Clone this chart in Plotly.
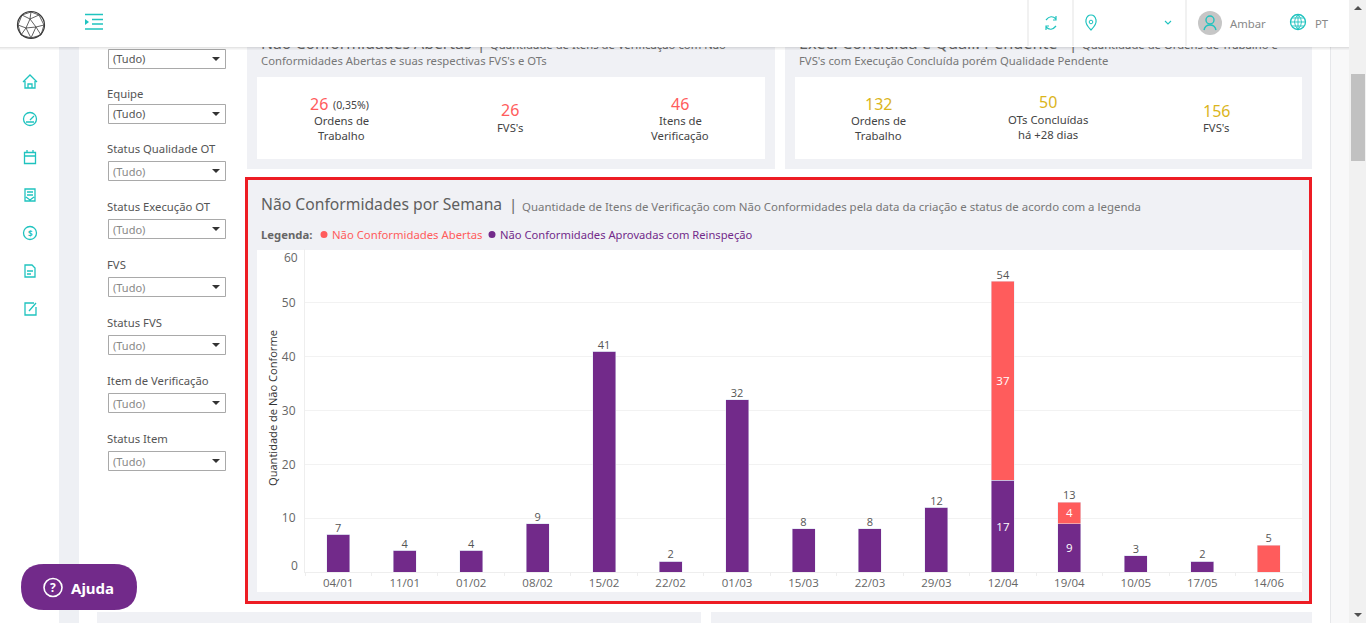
import plotly.graph_objects as go

W, H = 1366, 623
UI_FONT = "Noto Sans"

# chart data
semanas = ["04/01", "11/01", "01/02", "08/02", "15/02", "22/02", "01/03", "15/03",
           "22/03", "29/03", "12/04", "19/04", "10/05", "17/05", "14/06"]
aprovadas = [7, 4, 4, 9, 41, 2, 32, 8, 8, 12, 17, 9, 3, 2, 0]
abertas = [0, 0, 0, 0, 0, 0, 0, 0, 0, 0, 37, 4, 0, 0, 5]
y_ticks = [0, 10, 20, 30, 40, 50, 60]

nome_abertas = "Não Conformidades Abertas"
nome_aprovadas = "Não Conformidades Aprovadas com Reinspeção"

filtros = [("Equipe", 93.5, 104), ("Status Qualidade OT", 148.5, 161), ("Status Execução OT", 206.5, 219),
           ("FVS", 264.5, 277), ("Status FVS", 322.5, 335), ("Item de Verificação", 380.5, 393),
           ("Status Item", 438.5, 451)]

ROXO = "#722a8a"
VERMELHO = "#ff5c5c"
TEAL = "#1fc3bf"
CINZA_BG = "#f0f1f5"
AMARELO = "#dbb51c"
TXT = 11.3

totais = [a + b for a, b in zip(aprovadas, abertas)]
# the inner labels only show up when the bar really has two pieces
txt_aprovadas = [str(a) if a and b else "" for a, b in zip(aprovadas, abertas)]
txt_abertas = [str(b) if a and b else "" for a, b in zip(aprovadas, abertas)]


def X(v):
    return v / W


def Y(v):
    return 1 - v / H


shapes = []
notes = []


def rect(x0, y0, x1, y1, fill, line=None, lw=1, layer="below"):
    shapes.append(dict(type="rect", xref="paper", yref="paper", x0=X(x0), x1=X(x1), y0=Y(y0), y1=Y(y1),
                       fillcolor=fill, line=dict(color=line, width=lw if line else 0), layer=layer))


def circle(cx, cy, r, fill="rgba(0,0,0,0)", line=None, lw=1.3, layer="below"):
    shapes.append(dict(type="circle", xref="paper", yref="paper", x0=X(cx - r), x1=X(cx + r),
                       y0=Y(cy - r), y1=Y(cy + r), fillcolor=fill,
                       line=dict(color=line, width=lw if line else 0), layer=layer))


def path(d, line=None, lw=1.3, fill="rgba(0,0,0,0)", layer="below"):
    # d in pixels, M/L/Q/Z only
    out = []
    tok = d.split()
    i = 0
    while i < len(tok):
        if tok[i].isalpha():
            out.append(tok[i])
            i += 1
        else:
            out.append(f"{X(float(tok[i])):.5f},{Y(float(tok[i + 1])):.5f}")
            i += 2
    shapes.append(dict(type="path", xref="paper", yref="paper", path=" ".join(out), fillcolor=fill,
                       line=dict(color=line, width=lw if line else 0), layer=layer))


def text(x, y, s, size=TXT, color="#444", anchor="left", font=UI_FONT, angle=0):
    notes.append(dict(xref="paper", yref="paper", x=X(x), y=Y(y), text=s, showarrow=False,
                      xanchor=anchor, yanchor="middle", textangle=angle, borderpad=0, borderwidth=0,
                      font=dict(size=size, color=color, family=font)))


# page pieces
rect(59, 0, 79, H, "#eef0f4")
rect(1330, 0, 1331, H, "#e6e7ea")
rect(1331, 0, 1349, H, "#f8f8f9")
rect(1349, 0, W, H, "#f1f1f1")
rect(1351, 74, 1365, 161, "#c1c1c1")
path("M 1354 10 L 1362 10 L 1358 6 Z", fill="#505050")
path("M 1354 613 L 1362 613 L 1358 617 Z", fill="#505050")

# two cards on top
for x0, x1 in [(247, 775), (785, 1312)]:
    rect(x0, 30, x1, 169, CINZA_BG)
    rect(x0 + 10, 77, x1 - 10, 159, "white")

# lower panels, cut by the window
rect(97, 612, 701, H, CINZA_BG)
rect(711, 612, 1312, H, CINZA_BG)

# main panel
rect(246.5, 178.5, 1310.5, 602.5, CINZA_BG, line="#ed1c24", lw=3)
rect(257, 250, 1302, 592, "white")

# card texts
text(261, 60.5, "Conformidades Abertas e suas respectivas FVS's e OTs", TXT, "#777")
text(799, 60.5, "FVS's com Execução Concluída porém Qualidade Pendente", TXT, "#777")
text(319, 103.5, "26", 16, VERMELHO, "center")
text(333, 104.5, "(0,35%)", 10.5, "#444")
text(341, 120.5, "Ordens de", TXT, "#444", "center")
text(341, 135.5, "Trabalho", TXT, "#444", "center")
text(510, 110, "26", 16, VERMELHO, "center")
text(510, 127, "FVS's", TXT, "#444", "center")
text(680, 103.5, "46", 16, VERMELHO, "center")
text(680, 120.5, "Itens de", TXT, "#444", "center")
text(680, 135.5, "Verificação", TXT, "#444", "center")
text(879, 103.5, "132", 16, AMARELO, "center")
text(879, 120.5, "Ordens de", TXT, "#444", "center")
text(879, 135.5, "Trabalho", TXT, "#444", "center")
text(1048, 102.5, "50", 16, AMARELO, "center")
text(1048, 119.5, "OTs Concluídas", TXT, "#444", "center")
text(1048, 134.5, "há +28 dias", TXT, "#444", "center")
text(1216, 110.5, "156", 16, AMARELO, "center")
text(1216, 127.5, "FVS's", TXT, "#444", "center")

# main panel title
text(261, 204, "Não Conformidades por Semana", 15.7, "#5f5f5f")
text(509, 204, "|", 15, "#666")
text(522, 206, "Quantidade de Itens de Verificação com Não Conformidades pela data da criação e status de acordo com a legenda", 11.45, "#777")
text(261, 235, "<b>Legenda:</b>", TXT, "#666")
circle(324, 234.5, 3.5, fill=VERMELHO)
text(332, 235, nome_abertas, TXT, VERMELHO)
circle(492, 234.5, 3.5, fill=ROXO)
text(500, 235, nome_aprovadas, 11.2, ROXO)

# extremes of the y axis sit inside the plot height on the original
text(298, 257.5, "60", 12, "#666", "right", "Open Sans")
text(298, 565, "0", 12, "#666", "right", "Open Sans")
text(272, 408, "Quantidade de Não Conforme", 11.1, "#333", "center", "Open Sans", -90)

# filter column
rect(108.5, 49.5, 225.5, 68.5, "white", "#a9a9a9")
text(113, 59, "(Tudo)", 11, "#555")
path("M 212 57 L 220 57 L 216 61 Z", fill="#333")
for k, (nome, y_lab, y_box) in enumerate(filtros):
    text(107, y_lab, nome, TXT, "#555")
    rect(108.5, y_box + 0.5, 225.5, y_box + 19.5, "white", "#a9a9a9")
    text(113, y_box + 10, "(Tudo)", 11, "#555" if k == 0 else "#888")
    path(f"M 212 {y_box + 8} L 220 {y_box + 8} L 216 {y_box + 12} Z", fill="#333")

# left nav icons
path("M 23 82 L 30 75 L 37 82 M 25 81 L 25 88 L 35 88 L 35 81 M 28 88 L 28 84 L 32 84 L 32 88", TEAL)
circle(30, 119, 6.5, line=TEAL)
path("M 30 120 L 34 116 M 26 122 L 34 122", TEAL)
rect(24.5, 152.5, 35.5, 163.5, "rgba(0,0,0,0)", TEAL, 1.3)
path("M 24.5 156 L 35.5 156 M 27 150 L 27 153 M 33 150 L 33 153", TEAL)
path("M 25 189 L 35 189 L 35 201 L 25 201 Z M 27 192 L 33 192 M 27 195 L 33 195 M 26 197 L 30 200 L 34 197", TEAL)
circle(30, 233, 6.5, line=TEAL)
text(30, 233, "<b>$</b>", 8, TEAL, "center")
path("M 25 265 L 32 265 L 35 268 L 35 277 L 25 277 Z M 27 271 L 33 271 M 27 274 L 31 274", TEAL)
path("M 34 303 L 25 303 L 25 315 L 36 315 L 36 307 M 29 311 L 36 303", TEAL)

# help button
shapes.append(dict(type="path", xref="paper", yref="paper", layer="below", fillcolor=ROXO, line=dict(width=0),
                   path=f"M {X(44)},{Y(564)} L {X(114)},{Y(564)} Q {X(137)},{Y(564)} {X(137)},{Y(587)} "
                        f"Q {X(137)},{Y(610)} {X(114)},{Y(610)} L {X(44)},{Y(610)} "
                        f"Q {X(21)},{Y(610)} {X(21)},{Y(587)} Q {X(21)},{Y(564)} {X(44)},{Y(564)} Z"))
circle(53, 587.5, 9, line="white", lw=1.6)
text(53, 587.5, "<b>?</b>", 12, "white", "center")
text(71, 587.5, "<b>Ajuda</b>", 15, "white")

# top bar goes above the text of the cut card titles
for i, a in enumerate([0.10, 0.06, 0.03]):
    rect(0, 47 + i, 1349, 48 + i, f"rgba(0,0,0,{a})", layer="above")
rect(0, 0, 1349, 47, "white", layer="above")
for x in [1027.5, 1072.5, 1185.5]:
    rect(x, 0, x + 1, 46, "#e4e4e4", layer="above")

# logo
circle(31, 25, 13.5, line="#3a3a3a", lw=1.2, layer="above")
path("M 22 15 L 30 19 L 39 15 M 30 19 L 26 28 L 18 25 M 26 28 L 36 27 L 30 19 M 36 27 L 44 25 "
     "M 26 28 L 31 38 L 36 27 M 21 35 L 26 28 M 41 35 L 36 27 M 30 19 L 31 12 M 22 15 L 18 25 M 39 15 L 44 25 "
     "M 18 25 L 21 35 L 31 38 L 41 35 L 44 25 M 22 15 L 31 12 L 39 15",
     "#3a3a3a", 0.8, layer="above")
# menu toggle
path("M 85 14.5 L 103 14.5 M 85 29 L 103 29 M 92 19.5 L 103 19.5 M 92 24 L 103 24", TEAL, 1.6, layer="above")
path("M 85 19 L 89 22 L 85 25 Z", fill=TEAL, layer="above")

# top right icons
path("M 1046 20 Q 1051 14 1056 19 M 1056 26 Q 1051 32 1046 27 M 1056 16 L 1056 20 L 1053 20 M 1046 30 L 1046 26 L 1049 26",
     TEAL, 1.2, layer="above")
path("M 1091 30 Q 1085 24 1086 20 Q 1087 15 1091 15 Q 1095 15 1096 20 Q 1097 24 1091 30 Z", TEAL, 1.2, layer="above")
circle(1091, 22, 1.8, line=TEAL, lw=1, layer="above")
path("M 1165 21 L 1168 24 L 1171 21", TEAL, 1.1, layer="above")
circle(1210, 23, 12, fill="#c6c6c6", layer="above")
circle(1210, 20, 4, line=TEAL, lw=1.4, layer="above")
path("M 1204 30 Q 1205 25 1210 25 Q 1215 25 1216 30", TEAL, 1.4, layer="above")
circle(1298, 22, 7.5, line=TEAL, lw=1.3, layer="above")
path("M 1290.5 22 L 1305.5 22 M 1292 18 L 1304 18 M 1292 26 L 1304 26 M 1298 14.5 L 1298 29.5 "
     "M 1298 14.5 Q 1291 22 1298 29.5 M 1298 14.5 Q 1305 22 1298 29.5", TEAL, 0.9, layer="above")
text(1230, 23, "Ambar", TXT, "#888")
text(1315, 23, "PT", TXT, "#888")

fig = go.Figure()

fig.add_trace(go.Bar(x=semanas, y=aprovadas, marker_color=ROXO, name=nome_aprovadas,
                     text=txt_aprovadas, textposition="inside", insidetextanchor="middle", textangle=0,
                     insidetextfont=dict(color="white", size=11.5, family="Open Sans"), hoverinfo="skip"))
fig.add_trace(go.Bar(x=semanas, y=abertas, marker_color=VERMELHO, name=nome_abertas,
                     text=txt_abertas, textposition="inside", insidetextanchor="middle", textangle=0,
                     insidetextfont=dict(color="white", size=11.5, family="Open Sans"), hoverinfo="skip"))
fig.add_trace(go.Scatter(x=semanas, y=totais, mode="text", text=[str(t) for t in totais],
                         textposition="top center", cliponaxis=False,
                         textfont=dict(size=11, color="#555", family="Open Sans"), hoverinfo="skip"))

# cut titles must go under the top bar, annotations can't do that so they are text traces on a page axis
fig.add_trace(go.Scatter(x=[261, 477, 490, 799, 1069, 1082], y=[45, 45, 46, 45, 45, 46], xaxis="x2", yaxis="y2",
                         mode="text", textposition="middle right", hoverinfo="skip", cliponaxis=False,
                         text=["Não Conformidades Abertas", "|", "Quantidade de Itens de Verificação com Não",
                               "Exec. Concluída e Quali. Pendente", "|", "Quantidade de Ordens de Trabalho e"],
                         textfont=dict(size=[15.8, 15, TXT, 16.3, 15, TXT], color="#666", family=UI_FONT)))

fig.update_layout(
    width=W, height=H, autosize=False, showlegend=False,
    margin=dict(l=0, r=0, t=0, b=0, pad=0),
    paper_bgcolor="white", plot_bgcolor="rgba(0,0,0,0)",
    barmode="stack", bargap=0.654,
    shapes=shapes, annotations=notes,
    font=dict(family="Open Sans"),
    xaxis=dict(domain=[305 / W, 1302 / W], type="category", categoryorder="array", categoryarray=semanas,
               range=[-0.5, len(semanas) - 0.5], autorange=False,
               tickson="boundaries", ticks="outside", ticklen=3, tickcolor="#eeeeee",
               showline=True, linecolor="#eeeeee", showgrid=False, zeroline=False,
               tickfont=dict(size=11.5, color="#666", family="Open Sans"), fixedrange=True),
    yaxis=dict(domain=[1 - 572 / H, 1 - 249 / H], range=[0, 60], tickvals=y_ticks,
               ticktext=["" if v in (0, 60) else str(v) for v in y_ticks],
               ticks="outside", ticklen=6, tickcolor="rgba(0,0,0,0)",
               showline=True, linecolor="#eeeeee", gridcolor="#f2f2f2", zeroline=False,
               tickfont=dict(size=12, color="#666", family="Open Sans"), fixedrange=True),
    xaxis2=dict(domain=[0, 1], range=[0, W], visible=False, fixedrange=True, anchor="y2"),
    yaxis2=dict(domain=[0, 1], range=[H, 0], visible=False, fixedrange=True, anchor="x2"),
)

fig.write_html("out.html", config=dict(displayModeBar=False),
               post_script="document.body.style.margin='0';document.body.style.overflow='hidden';")
